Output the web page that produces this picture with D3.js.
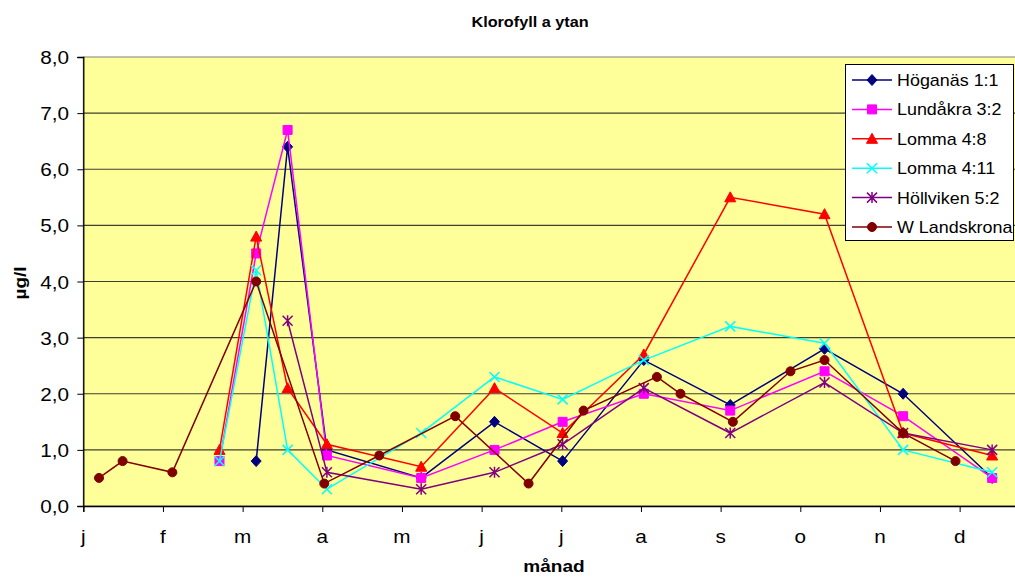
<!DOCTYPE html>
<html>
<head>
<meta charset="utf-8">
<script src="https://cdn.jsdelivr.net/npm/d3@7"></script>
<style>
    body { margin: 0; background: #fff; }
    svg { display: block; overflow: hidden; }
    text { font-family: "Liberation Sans", Arial, sans-serif; fill: #000; }
</style>
</head>
<body>
<svg id="chart"></svg>
<script>
// dag på året (x) och klorofyll µg/l (y) per station
var months = ["j", "f", "m", "a", "m", "j", "j", "a", "s", "o", "n", "d"]
var yTicks = [0, 1, 2, 3, 4, 5, 6, 7, 8]

var hoganasDays = [66, 78, 93, 129, 157, 183, 214, 247, 283, 313, 347]
var hoganas = [0.8, 6.4, 1.0, 0.5, 1.5, 0.8, 2.6, 1.8, 2.8, 2.0, 0.5]

var lundakraDays = [52, 66, 78, 93, 129, 157, 183, 214, 247, 283, 313, 347]
var lundakra = [0.8, 4.5, 6.7, 0.9, 0.5, 1.0, 1.5, 2.0, 1.7, 2.4, 1.6, 0.5]

var lomma48Days = [52, 66, 78, 93, 129, 157, 183, 214, 247, 283, 313, 347]
var lomma48 = [1.0, 4.8, 2.1, 1.1, 0.7, 2.1, 1.3, 2.7, 5.5, 5.2, 1.3, 0.9]

var lomma411Days = [52, 66, 78, 93, 129, 157, 183, 214, 247, 283, 313, 347]
var lomma411 = [0.8, 4.2, 1.0, 0.3, 1.3, 2.3, 1.9, 2.6, 3.2, 2.9, 1.0, 0.6]

var hollvikenDays = [78, 93, 129, 157, 183, 214, 247, 283, 313, 347]
var hollviken = [3.3, 0.6, 0.3, 0.6, 1.1, 2.1, 1.3, 2.2, 1.3, 1.0]

var landskronaDays = [6, 15, 34, 66, 92, 113, 142, 170, 191, 219, 228, 248, 270, 283, 313, 333]
var landskrona = [0.5, 0.8, 0.6, 4.0, 0.4, 0.9, 1.6, 0.4, 1.7, 2.3, 2.0, 1.5, 2.4, 2.6, 1.3, 0.8]

var seriesNames = ["Höganäs 1:1", "Lundåkra 3:2", "Lomma 4:8", "Lomma 4:11", "Höllviken 5:2", "W Landskrona"]
var seriesColors = ["#000080", "#ff00ff", "#ff0000", "#00ffff", "#800080", "#800000"]
var seriesMarkers = ["diamond", "square", "triangle", "cross", "star", "circle"]

var seriesData = [
    [hoganasDays, hoganas],
    [lundakraDays, lundakra],
    [lomma48Days, lomma48],
    [lomma411Days, lomma411],
    [hollvikenDays, hollviken],
    [landskronaDays, landskrona]
].map(function (s, i) {
    return {
        name: seriesNames[i],
        color: seriesColors[i],
        marker: seriesMarkers[i],
        points: s[0].map(function (d, j) { return { day: d, value: s[1][j] } })
    }
})

var dimensions = {
    width: 1015,
    height: 577,
    margin: { top: 57, bottom: 71, left: 83.3, right: -24.3 }
}
var stretch = 1.12

var svg = d3.select("#chart")
    .attr("width", dimensions.width)
    .attr("height", dimensions.height)

var xScale = d3.scaleLinear()
    .domain([0, 365])
    .range([dimensions.margin.left, dimensions.width - dimensions.margin.right])

var yScale = d3.scaleLinear()
    .domain([0, 8])
    .range([dimensions.height - dimensions.margin.bottom, dimensions.margin.top])

var plotLeft = xScale(0), plotRight = xScale(365)
var plotTop = yScale(8), plotBottom = yScale(0)

function label(g, x, y, str, size, weight, anchor, rotate) {
    return g.append("text")
        .attr("transform", "translate(" + x + "," + y + ")" + (rotate ? " rotate(" + rotate + ")" : "") + " scale(" + stretch + ",1)")
        .attr("text-anchor", anchor)
        .style("font-size", size + "px")
        .style("font-weight", weight)
        .text(str)
}

svg.append("rect")
    .attr("x", plotLeft)
    .attr("y", plotTop)
    .attr("width", plotRight - plotLeft)
    .attr("height", plotBottom - plotTop)
    .attr("fill", "#ffff99")
    .attr("stroke", "#808080")
    .attr("stroke-width", 1)

svg.append("g")
    .selectAll("line")
    .data(yTicks.slice(1, -1))
    .enter()
    .append("line")
    .attr("x1", plotLeft)
    .attr("x2", plotRight)
    .attr("y1", d => yScale(d))
    .attr("y2", d => yScale(d))
    .attr("stroke", "#3f3f30")
    .attr("stroke-width", 1.2)

var monthTicks = d3.range(0, 13).map(d => d * 365 / 12)

var xAxis = d3.axisBottom(xScale)
    .tickValues(monthTicks)
    .tickSize(6)
    .tickFormat("")

svg.append("g")
    .attr("class", "x-axis")
    .attr("transform", "translate(0," + plotBottom + ")")
    .call(xAxis)
    .call(g => g.select(".domain").attr("stroke-width", 1.3))

var yAxis = d3.axisLeft(yScale)
    .tickValues(yTicks)
    .tickSize(6)
    .tickFormat("")

svg.append("g")
    .attr("class", "y-axis")
    .attr("transform", "translate(" + plotLeft + ",0)")
    .call(yAxis)
    .call(g => g.select(".domain").attr("stroke-width", 1.3))

var tickLabels = svg.append("g")
months.forEach(function (m, i) {
    label(tickLabels, xScale(monthTicks[i]), plotBottom + 37, m, 18.5, "normal", "middle")
})
yTicks.forEach(function (t) {
    label(tickLabels, 69, yScale(t) + 7, d3.format(".1f")(t).replace(".", ","), 18.5, "normal", "end")
})

label(svg, 530, 27, "Klorofyll a ytan", 14.5, "bold", "middle")
label(svg, 554, 572, "månad", 17, "bold", "middle")
label(svg, 26, 283, "µg/l", 17, "bold", "middle", -90)

var symbols = {
    diamond: "M0,-5.5L5,0L0,5.5L-5,0Z",
    square: "M-4.5,-4.5H4.5V4.5H-4.5Z",
    triangle: "M0,-5.5L5.5,4.5H-5.5Z",
    cross: "M-5,-5L5,5M-5,5L5,-5",
    star: "M-5,-5L5,5M-5,5L5,-5M0,-5.5V5.5",
    circle: "M4.5,0A4.5,4.5 0 1,1 -4.5,0A4.5,4.5 0 1,1 4.5,0Z"
}
var openMarker = { cross: true, star: true }

var line = d3.line()
    .x(d => xScale(d.day))
    .y(d => yScale(d.value))

var seriesGroups = svg.append("g")
    .selectAll("g")
    .data(seriesData)
    .enter()
    .append("g")

seriesGroups.append("path")
    .attr("d", d => line(d.points))
    .attr("fill", "none")
    .attr("stroke", d => d.color)
    .attr("stroke-width", 1.5)

seriesGroups.each(function (s) {
    d3.select(this)
        .selectAll(".marker")
        .data(s.points)
        .enter()
        .append("path")
        .attr("class", "marker")
        .attr("transform", d => "translate(" + xScale(d.day) + "," + yScale(d.value) + ")")
        .attr("d", symbols[s.marker])
        .attr("fill", openMarker[s.marker] ? "none" : s.color)
        .attr("stroke", s.color)
        .attr("stroke-width", openMarker[s.marker] ? 1.5 : 1)
})

// förklaring
var legend = svg.append("g")

legend.append("rect")
    .attr("x", 845.5)
    .attr("y", 64.5)
    .attr("width", 168)
    .attr("height", 176)
    .attr("fill", "#fff")
    .attr("stroke", "#000")
    .attr("stroke-width", 1)

seriesData.forEach(function (s, i) {
    var ly = 80 + i * 29.4
    legend.append("line")
        .attr("x1", 852)
        .attr("x2", 892)
        .attr("y1", ly)
        .attr("y2", ly)
        .attr("stroke", s.color)
        .attr("stroke-width", 1.5)
    legend.append("path")
        .attr("transform", "translate(872," + ly + ")")
        .attr("d", symbols[s.marker])
        .attr("fill", openMarker[s.marker] ? "none" : s.color)
        .attr("stroke", s.color)
        .attr("stroke-width", openMarker[s.marker] ? 1.5 : 1)
    label(legend, 897, ly + 6, s.name, 16, "normal", "start")
})
</script>
</body>
</html>
